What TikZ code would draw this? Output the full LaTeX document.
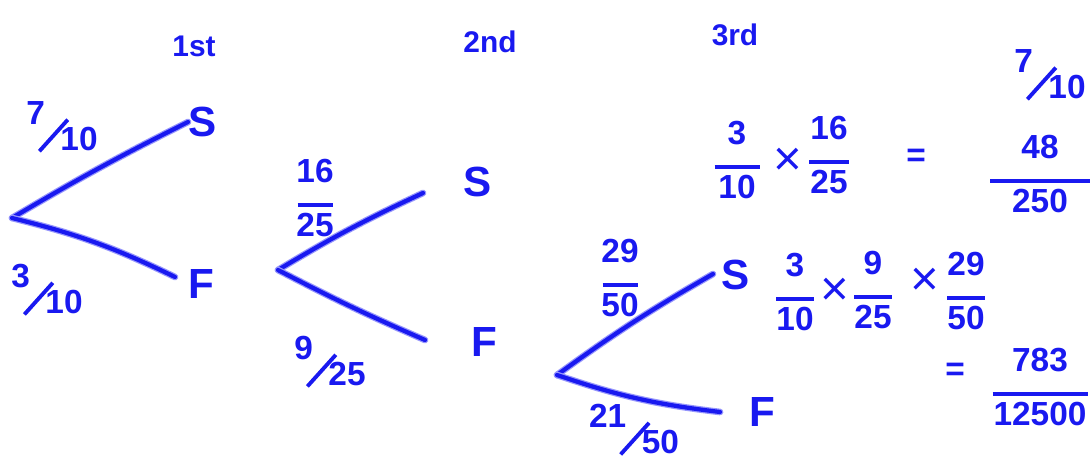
\documentclass[tikz,border=0pt]{standalone}
\usepackage{fontspec}
\setmainfont{Liberation Sans}
\definecolor{ink}{RGB}{25,25,240}
\definecolor{halo}{RGB}{150,150,252}
\newcommand{\stk}[3][0.9cm]{#2\\[-6pt]\rule{#1}{2.2pt}\\[-3pt]#3}
\newcommand{\slf}[2]{\raisebox{7pt}{#1}\hspace{-4pt}\raisebox{-9pt}{\rotatebox{48}{\rule{0.85cm}{2.2pt}}}\hspace{-5pt}\raisebox{-8pt}{#2}}
\newcommand{\tms}{{\fontsize{28}{28}\selectfont\mdseries ×}}
\begin{document}
\begin{tikzpicture}[x=0.02cm,y=-0.02cm,
 ink/.style={draw=ink,line width=2.4pt,line cap=round,line join=round,
   preaction={draw=halo,line width=3.8pt,line cap=round}},
 lbl/.style={text=ink,font=\fontsize{24}{26}\selectfont\bfseries,inner sep=2pt},
 head/.style={text=ink,font=\fontsize{17}{19}\selectfont\bfseries,inner sep=0pt},
 num/.style={text=ink,font=\fontsize{19}{20}\selectfont\bfseries,align=center,inner sep=0pt},
]
\useasboundingbox (0,0) rectangle (1091,465);
% headings
\node[head] (h1) at (194,46) {1st};
\node[head] (h2) at (490,42) {2nd};
\node[head] (h3) at (735,35) {3rd};
% tree 1
\coordinate (r1) at (12,218);
\coordinate (u1) at (188,122);
\coordinate (l1) at (175,277);
\node[lbl] (s1) at (203,122) {S};
\node[lbl] (f1) at (201,284) {F};
\draw[ink] (r1) to[bend left=2] (u1);
\draw[ink] (r1) to[bend left=6] (l1);
\node[num] (p1) at (62,127) {\slf{7}{10}};
\node[num] (p2) at (47,290) {\slf{3}{10}};
% tree 2
\coordinate (r2) at (278,270);
\coordinate (u2) at (423,193);
\coordinate (l2) at (425,340);
\node[lbl] (s2) at (478,182) {S};
\node[lbl] (f2) at (484,342) {F};
\draw[ink] (r2) to[bend left=3] (u2);
\draw[ink] (r2) to[bend right=2] (l2);
\node[num] (p3) at (315,198) {\stk[0.7cm]{16}{25}};
\node[num] (p4) at (330,362) {\slf{9}{25}};
% tree 3
\coordinate (r3) at (557,375);
\coordinate (u3) at (713,274);
\coordinate (l3) at (720,412);
\node[lbl] (s3) at (736,275) {S};
\node[lbl] (f3) at (762,412) {F};
\draw[ink] (r3) to[bend left=3] (u3);
\draw[ink] (r3) to[bend right=6] (l3);
\node[num] (p5) at (620,278) {\stk[0.7cm]{29}{50}};
\node[num] (p6) at (634,430) {\slf{21}{50}};
% calculation 1
\node[num] (c1) at (737,160) {\stk[0.9cm]{3}{10}};
\node[num] (x1) at (788,162) {\tms};
\node[num] (c2) at (829,155) {\stk[0.8cm]{16}{25}};
\node[num] (e1) at (916,158) {=};
\node[num] (c3) at (1040,174) {\stk[2cm]{48}{250}};
\node[num] (c4) at (1050,75) {\slf{7}{10}};
% calculation 2
\node[num] (d1) at (795,292) {\stk[0.75cm]{3}{10}};
\node[num] (x2) at (835,292) {\tms};
\node[num] (d2) at (873,290) {\stk[0.75cm]{9}{25}};
\node[num] (x3) at (925,282) {\tms};
\node[num] (d3) at (966,291) {\stk[0.75cm]{29}{50}};
\node[num] (e2) at (955,372) {=};
\node[num] (d4) at (1040,387) {\stk[1.9cm]{783}{12500}};
\end{tikzpicture}
\end{document}
